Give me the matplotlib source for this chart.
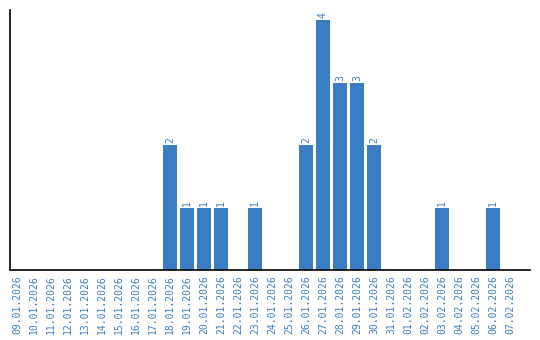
import matplotlib
matplotlib.use("Agg")
import matplotlib.pyplot as plt

dates = ["09.01.2026", "10.01.2026", "11.01.2026", "12.01.2026", "13.01.2026",
         "14.01.2026", "15.01.2026", "16.01.2026", "17.01.2026", "18.01.2026",
         "19.01.2026", "20.01.2026", "21.01.2026", "22.01.2026", "23.01.2026",
         "24.01.2026", "25.01.2026", "26.01.2026", "27.01.2026", "28.01.2026",
         "29.01.2026", "30.01.2026", "31.01.2026", "01.02.2026", "02.02.2026",
         "03.02.2026", "04.02.2026", "05.02.2026", "06.02.2026", "07.02.2026"]
counts = [0, 0, 0, 0, 0, 0, 0, 0, 0, 2,
          1, 1, 1, 0, 1, 0, 0, 2, 4, 3,
          3, 2, 0, 0, 0, 1, 0, 0, 1, 0]

blue = '#3b7dc2'

fig = plt.figure(figsize=(5.4, 3.4), dpi=100)
ax = fig.add_axes([10 / 540, 70 / 340, 520 / 540, 260 / 340])

x = list(range(len(dates)))
bars = ax.bar(x, counts, width=0.82, color=blue)

# value labels above non-empty bars
for xi, c in zip(x, counts):
    if c > 0:
        ax.text(xi, c + 0.03, str(c), rotation=90, ha='center', va='bottom',
                color=blue, fontsize=7, family='DejaVu Sans Mono')

ax.set_xlim(-0.41, 30.18)
ax.set_ylim(0, 4.16)
ax.set_xticks(x)
ax.set_xticklabels(dates, rotation=90, color=blue, fontsize=7,
                   family='DejaVu Sans Mono')
ax.tick_params(axis='x', length=0, pad=4)
ax.set_yticks([])
ax.spines['top'].set_visible(False)
ax.spines['right'].set_visible(False)
ax.spines['left'].set_linewidth(1.2)
ax.spines['bottom'].set_linewidth(1.2)

plt.savefig('out.png', dpi=100)
